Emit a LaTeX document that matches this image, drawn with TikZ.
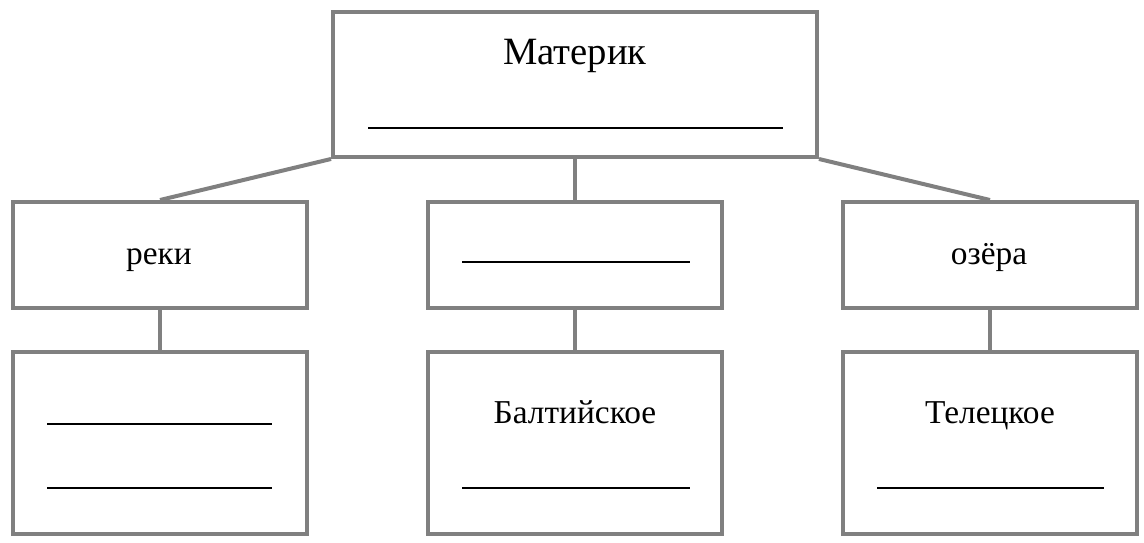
\documentclass[tikz,border=0pt]{standalone}
\usepackage{fontspec}
\setmainfont{Liberation Serif}
\definecolor{boxgray}{HTML}{808080}
\begin{document}
\begin{tikzpicture}[x=0.02cm, y=-0.02cm,
    box/.style={draw=boxgray, line width=0.08cm, minimum width=5.9cm, inner sep=0pt},
    link/.style={draw=boxgray, line width=0.08cm},
    blank/.style={draw=black, line width=0.04cm},
    word/.style={anchor=base, inner sep=0pt, font=\fontsize{19}{23}\selectfont},
    title/.style={word, font=\fontsize{22}{26}\selectfont}]
  \useasboundingbox (0,0) rectangle (1144,543);
  % boxes
  \node[box, minimum width=9.68cm, minimum height=2.9cm] (cont) at (575,84.5) {};
  \node[box, minimum height=2.12cm] (rivers) at (160,255) {};
  \node[box, minimum height=2.12cm] (seas) at (575,255) {};
  \node[box, minimum height=2.12cm] (lakes) at (990,255) {};
  \node[box, minimum height=3.64cm] (rivlist) at (160,443) {};
  \node[box, minimum height=3.64cm] (sealist) at (575,443) {};
  \node[box, minimum height=3.64cm] (lakelist) at (990,443) {};
  % texts
  \node[title] (contname) at (575,65) {Материк};
  \node[word] (rivname) at (159,265) {реки};
  \node[word] (lakename) at (989,265) {озёра};
  \node[word] (baltic) at (575,424) {Балтийское};
  \node[word] (teletskoe) at (990,424) {Телецкое};
  % blanks to fill in
  \draw[blank] (368,128) -- (783,128);
  \draw[blank] (462,262) -- (690,262);
  \draw[blank] (47,424) -- (272,424)
               (47,488) -- (272,488);
  \draw[blank] (462,488) -- (690,488);
  \draw[blank] (877,488) -- (1104,488);
  % connectors
  \draw[link] (cont.south west) -- (rivers.north);
  \draw[link] (cont.south) -- (seas.north);
  \draw[link] (cont.south east) -- (lakes.north);
  \draw[link] (rivers.south) -- (rivlist.north);
  \draw[link] (seas.south) -- (sealist.north);
  \draw[link] (lakes.south) -- (lakelist.north);
\end{tikzpicture}
\end{document}
